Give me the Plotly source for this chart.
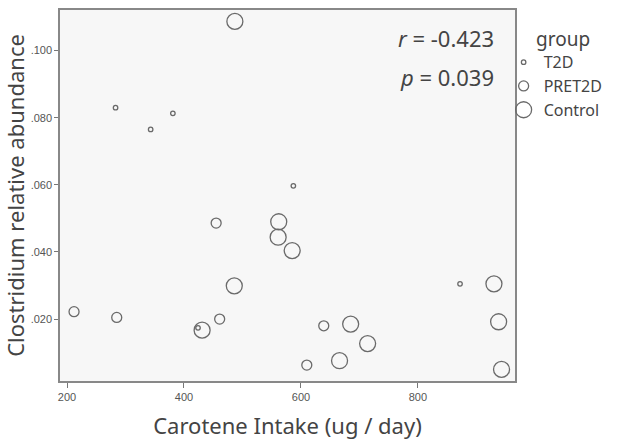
import plotly.graph_objects as go

# ---- data ----
t2d_x = [283, 343, 381, 424, 587, 872]
t2d_y = [0.0830, 0.0765, 0.0813, 0.0174, 0.0597, 0.0305]

pre_x = [212, 285, 455, 461, 610, 639]
pre_y = [0.0222, 0.0205, 0.0486, 0.0200, 0.0063, 0.0180]

ctl_x = [487, 562, 561, 585, 486, 431, 685, 714, 666, 930, 938, 943]
ctl_y = [0.1087, 0.0490, 0.0444, 0.0404, 0.0299, 0.0167, 0.0185, 0.0127, 0.0076, 0.0305, 0.0192, 0.0050]

x_ticks = [200, 400, 600, 800]
y_ticks = [0.02, 0.04, 0.06, 0.08, 0.10]
y_tick_labels = [".020", ".040", ".060", ".080", ".100"]

r_text = "<i>r</i> = -0.423"
p_text = "<i>p</i> = 0.039"

line_col = "#6a6a6a"
fig = go.Figure()
for name, xs, ys, sz in [("T2D", t2d_x, t2d_y, 4.5),
                          ("PRET2D", pre_x, pre_y, 10),
                          ("Control", ctl_x, ctl_y, 16)]:
    fig.add_trace(go.Scatter(
        x=xs, y=ys, mode="markers", name=name,
        marker=dict(size=sz, color="rgba(0,0,0,0)", symbol="circle",
                    line=dict(color=line_col, width=1.3)),
    ))

fig.update_layout(
    width=635, height=444,
    margin=dict(l=60, r=120, t=10, b=63, autoexpand=False),
    paper_bgcolor="white",
    plot_bgcolor="#f7f7f7",
    font=dict(family="Noto Sans", color="#444"),
    showlegend=True,
    legend=dict(x=0.975, xanchor="left", y=0.905, yanchor="top",
                font=dict(size=16, color="#444", family="Noto Sans"),
                itemsizing="trace", itemwidth=30, tracegroupgap=0,
                bgcolor="rgba(0,0,0,0)"),
    xaxis=dict(range=[188, 966], tickvals=x_ticks, ticks="outside", ticklen=5,
               tickcolor="#777", showgrid=False, zeroline=False, automargin=False,
               showline=True, linecolor="#888", linewidth=1.5, mirror=True,
               tickfont=dict(family="Liberation Sans", size=11, color="#555"),
               title=dict(text="Carotene Intake (ug / day)", standoff=17,
                          font=dict(size=22, color="#444", family="Noto Sans"))),
    yaxis=dict(range=[0.00155, 0.1121], tickvals=y_ticks, ticktext=y_tick_labels,
               ticks="outside", ticklen=4, tickcolor="#777", showgrid=False,
               zeroline=False, showline=True, linecolor="#888", linewidth=1.5,
               mirror=True, automargin=False,
               tickfont=dict(family="Liberation Sans", size=11, color="#555"),
               title=dict(text="Clostridium relative abundance", standoff=4,
                          font=dict(size=22, color="#444", family="Noto Sans"))),
)

fig.add_annotation(x=0.958, y=0.925, xref="paper", yref="paper", text=r_text,
                   showarrow=False, xanchor="right", yanchor="middle",
                   font=dict(size=22, color="#444", family="Noto Sans"))
fig.add_annotation(x=0.958, y=0.819, xref="paper", yref="paper", text=p_text,
                   showarrow=False, xanchor="right", yanchor="middle",
                   font=dict(size=22, color="#444", family="Noto Sans"))
fig.add_annotation(x=1.042, y=0.922, xref="paper", yref="paper", text="group",
                   showarrow=False, xanchor="left", yanchor="middle",
                   font=dict(size=19, color="#444", family="Noto Sans"))

fig.write_html("out.html", config={"displayModeBar": False},
               post_script="document.body.style.margin='0';")
